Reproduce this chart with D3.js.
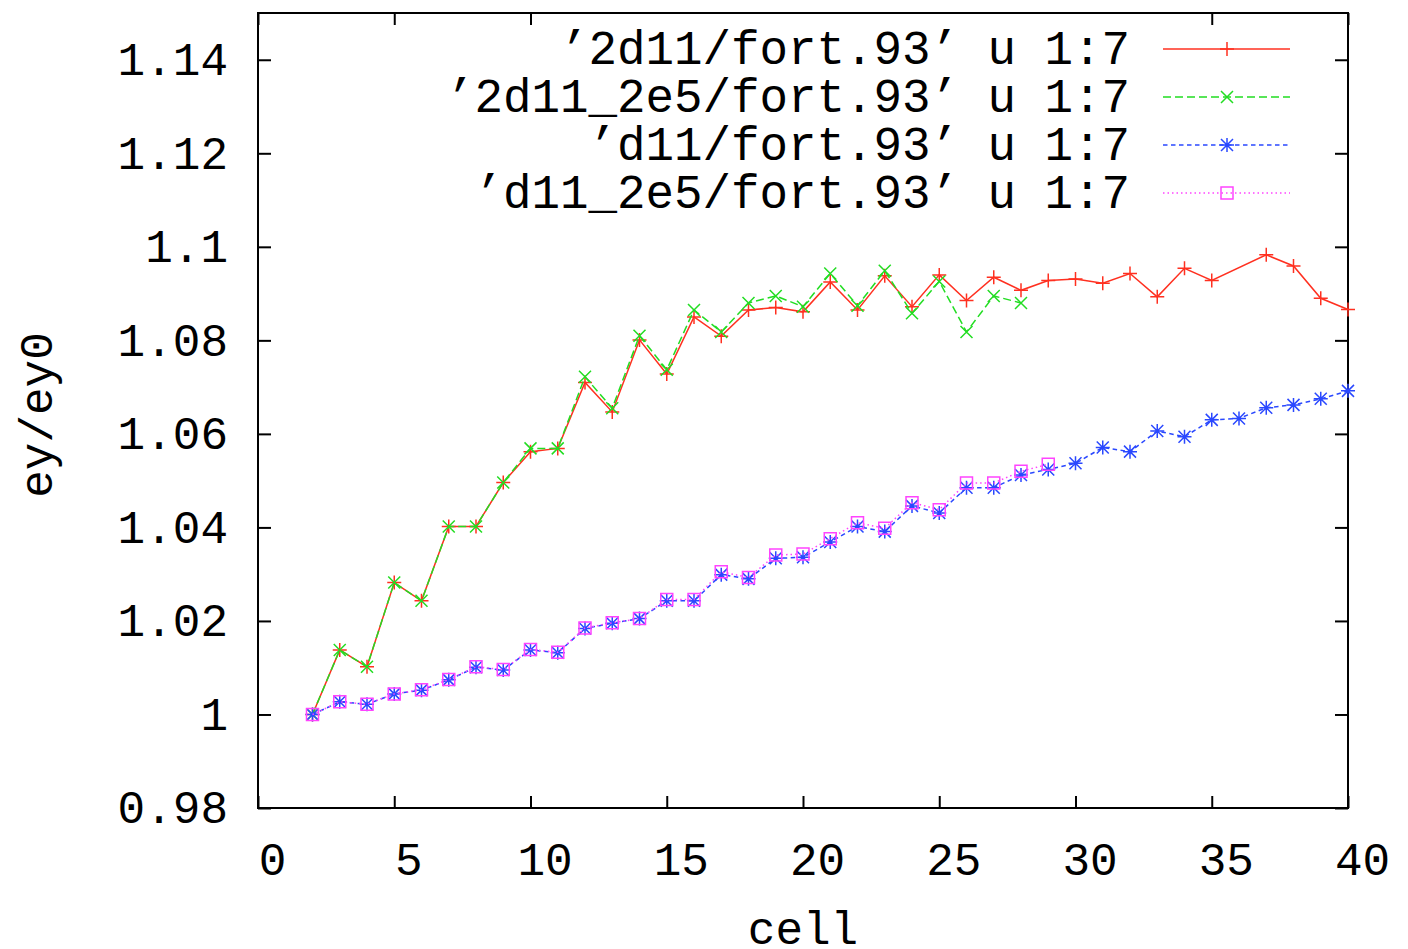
<!DOCTYPE html>
<html>
<head>
<meta charset="utf-8">
<script src="https://cdn.jsdelivr.net/npm/d3@7"></script>
<style>
  body { margin: 0; background: #fff; }
  svg text { font-family: "Liberation Mono", "DejaVu Sans Mono", monospace; font-size: 46px; fill: #000; }
</style>
</head>
<body>
<svg id="chart" width="1408" height="949"></svg>
<script>
// data
var xTicks = [0, 5, 10, 15, 20, 25, 30, 35, 40];
var yTicks = [0.98, 1, 1.02, 1.04, 1.06, 1.08, 1.1, 1.12, 1.14];
var yTickLabels = ["0.98", "1", "1.02", "1.04", "1.06", "1.08", "1.1", "1.12", "1.14"];

var seriesNames = ["\u20192d11/fort.93\u2019 u 1:7", "\u20192d11_2e5/fort.93\u2019 u 1:7",
                   "\u2019d11/fort.93\u2019 u 1:7", "\u2019d11_2e5/fort.93\u2019 u 1:7"];

var cells2d11 = [2, 3, 4, 5, 6, 7, 8, 9, 10, 11, 12, 13, 14, 15, 16, 17, 18, 19, 20, 21,
                 22, 23, 24, 25, 26, 27, 28, 29, 30, 31, 32, 33, 34, 35, 37, 38, 39, 40];
var vals2d11 = [1.0000, 1.0138, 1.0102, 1.0282, 1.0243, 1.0402, 1.0402, 1.0496, 1.0562, 1.0569,
                1.0710, 1.0647, 1.0801, 1.0728, 1.0850, 1.0809, 1.0865, 1.0870, 1.0861, 1.0925,
                1.0865, 1.0938, 1.0872, 1.0940, 1.0885, 1.0935, 1.0907, 1.0928, 1.0931, 1.0922,
                1.0943, 1.0893, 1.0954, 1.0928, 1.0983, 1.0959, 1.0890, 1.0866];

var cells2d11_2e5 = [2, 3, 4, 5, 6, 7, 8, 9, 10, 11, 12, 13, 14, 15, 16, 17, 18, 19, 20, 21,
                     22, 23, 24, 25, 26, 27, 28];
var vals2d11_2e5 = [1.0000, 1.0138, 1.0102, 1.0282, 1.0243, 1.0402, 1.0402, 1.0496, 1.0569, 1.0569,
                    1.0722, 1.0655, 1.0810, 1.0737, 1.0865, 1.0818, 1.0880, 1.0895, 1.0872, 1.0943,
                    1.0874, 1.0949, 1.0858, 1.0926, 1.0818, 1.0895, 1.0880];

var cellsD11 = [2, 3, 4, 5, 6, 7, 8, 9, 10, 11, 12, 13, 14, 15, 16, 17, 18, 19, 20, 21,
                22, 23, 24, 25, 26, 27, 28, 29, 30, 31, 32, 33, 34, 35, 36, 37, 38, 39, 40];
var valsD11 = [1.0000, 1.0027, 1.0022, 1.0044, 1.0052, 1.0074, 1.0101, 1.0095, 1.0138, 1.0132,
               1.0184, 1.0195, 1.0205, 1.0243, 1.0243, 1.0299, 1.0290, 1.0334, 1.0336, 1.0369,
               1.0402, 1.0391, 1.0446, 1.0431, 1.0485, 1.0485, 1.0512, 1.0524, 1.0537, 1.0571,
               1.0562, 1.0606, 1.0594, 1.0630, 1.0633, 1.0656, 1.0662, 1.0675, 1.0692];

var cellsD11_2e5 = [2, 3, 4, 5, 6, 7, 8, 9, 10, 11, 12, 13, 14, 15, 16, 17, 18, 19, 20, 21,
                    22, 23, 24, 25, 26, 27, 28, 29];
var valsD11_2e5 = [1.0000, 1.0027, 1.0022, 1.0044, 1.0053, 1.0075, 1.0102, 1.0096, 1.0139, 1.0133,
                   1.0185, 1.0196, 1.0205, 1.0246, 1.0246, 1.0305, 1.0293, 1.0341, 1.0343, 1.0376,
                   1.0410, 1.0398, 1.0453, 1.0438, 1.0495, 1.0495, 1.0520, 1.0535];

// plot box (note: "top" is taken by window.top, so use other names)
var boxL = 258, boxR = 1348, boxT = 13, boxB = 808;

var svg = d3.select("#chart");
var x = d3.scaleLinear().domain([0, 40]).range([boxL, boxR]);
var y = d3.scaleLinear().domain([0.98, 1.15]).range([boxB, boxT]);

// marker shapes (gnuplot style point types)
var plus = "M-7,0H7M0,-7V7";
var cross = "M-6,-6L6,6M-6,6L6,-6";
var star = plus + cross;
var square = "M-6,-6H6V6H-6Z";

var series = [
    {name: seriesNames[0], xs: cells2d11, ys: vals2d11, color: "#ff3020", dash: null, mark: plus},
    {name: seriesNames[1], xs: cells2d11_2e5, ys: vals2d11_2e5, color: "#22dd22", dash: "8,4", mark: cross},
    {name: seriesNames[2], xs: cellsD11, ys: valsD11, color: "#2a48ff", dash: "4.5,3.5", mark: star},
    {name: seriesNames[3], xs: cellsD11_2e5, ys: valsD11_2e5, color: "#ff44ff", dash: "1.5,3", mark: square}
];

// axes, ticks inside and mirrored
var xAxis = svg.append("g").attr("transform", "translate(0," + boxB + ")")
    .call(d3.axisBottom(x).tickValues(xTicks).tickSize(-12).tickFormat(d3.format("d")));
xAxis.selectAll("text").attr("y", 67).attr("dy", 0).attr("dx", 14);

var xAxisTop = svg.append("g").attr("transform", "translate(0," + boxT + ")")
    .call(d3.axisTop(x).tickValues(xTicks).tickSize(-12).tickFormat(""));

var yAxis = svg.append("g").attr("transform", "translate(" + boxL + ",0)")
    .call(d3.axisLeft(y).tickValues(yTicks).tickSize(-13).tickPadding(30)
        .tickFormat(function (d, i) { return yTickLabels[i]; }));

var yAxisRight = svg.append("g").attr("transform", "translate(" + boxR + ",0)")
    .call(d3.axisRight(y).tickValues(yTicks).tickSize(-13).tickFormat(""));

svg.selectAll(".domain").remove();
svg.selectAll(".tick line").attr("stroke", "#000").attr("stroke-width", 2);
svg.selectAll(".tick text").attr("font-size", null).attr("font-family", null);

// top ticks behind the key text are hidden, as gnuplot does
xAxisTop.selectAll(".tick").filter(function (d) { return d > 10 && d < 35; }).remove();

svg.append("rect")
    .attr("x", boxL).attr("y", boxT)
    .attr("width", boxR - boxL).attr("height", boxB - boxT)
    .attr("fill", "none").attr("stroke", "#000").attr("stroke-width", 2);

// axis titles
svg.append("text")
    .attr("transform", "translate(52,415) rotate(-90)")
    .attr("text-anchor", "middle")
    .text("ey/ey0");

svg.append("text")
    .attr("x", 803).attr("y", 944)
    .attr("text-anchor", "middle")
    .text("cell");

// lines and points
var line = d3.line()
    .x(function (d) { return x(d[0]); })
    .y(function (d) { return y(d[1]); });

series.forEach(function (s) {
    var pts = d3.zip(s.xs, s.ys);
    var g = svg.append("g");
    g.append("path")
        .attr("d", line(pts))
        .attr("fill", "none")
        .attr("stroke", s.color)
        .attr("stroke-width", 1.5)
        .attr("stroke-dasharray", s.dash);
    g.selectAll("path.pt").data(pts).enter().append("path")
        .attr("class", "pt")
        .attr("transform", function (d) { return "translate(" + x(d[0]) + "," + y(d[1]) + ")"; })
        .attr("d", s.mark)
        .attr("fill", "none")
        .attr("stroke", s.color)
        .attr("stroke-width", 1.5);
});

// key
var key = svg.append("g");
series.forEach(function (s, i) {
    var ky = 49 + i * 48;
    key.append("text")
        .attr("x", 1130).attr("y", ky + 15)
        .attr("text-anchor", "end")
        .style("font-size", "47.5px")
        .text(s.name);
    key.append("line")
        .attr("x1", 1163).attr("x2", 1290)
        .attr("y1", ky).attr("y2", ky)
        .attr("stroke", s.color)
        .attr("stroke-width", 1.5)
        .attr("stroke-dasharray", s.dash);
    key.append("path")
        .attr("transform", "translate(1227," + ky + ")")
        .attr("d", s.mark)
        .attr("fill", "none")
        .attr("stroke", s.color)
        .attr("stroke-width", 1.5);
});
</script>
</body>
</html>
